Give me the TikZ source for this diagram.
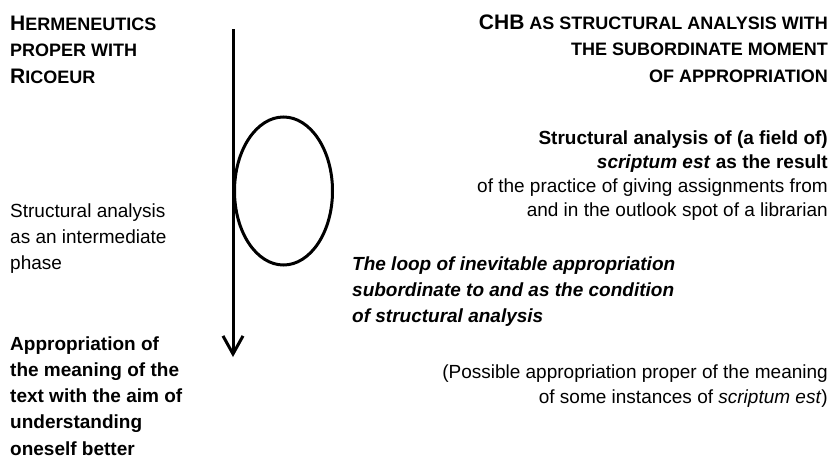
\documentclass[tikz,border=0pt]{standalone}
\usepackage{fontspec}
\setmainfont{Liberation Sans}
\usetikzlibrary{arrows.meta,shapes.geometric}

% faked small capitals: large initial, smaller capitals for the rest
\newcommand\capbig[1]{{\fontsize{21}{26.5}\selectfont #1}}
\newcommand\capsmall[1]{{\fontsize{18}{26.5}\selectfont #1}}

% multi-line nodes are placed by the baseline of their last line
\tikzset{
  heading/.style={inner sep=0pt, font=\bfseries\fontsize{18}{26.5}\selectfont},
  rightbody/.style={inner sep=0pt, font=\fontsize{19}{24}\selectfont, align=right, anchor=base east},
  leftbody/.style={inner sep=0pt, font=\fontsize{19}{26}\selectfont, align=left, anchor=base west},
  stroke/.style={line width=3pt, draw=black},
}

\begin{document}
\begin{tikzpicture}[x=1pt,y=-1pt]
\useasboundingbox[fill=white] (0,0) rectangle (836,458);

% column headings
\node[heading, align=left, anchor=base west] (lefthead) at (10,83)
  {\capbig{H}\capsmall{ERMENEUTICS}\\ \capsmall{PROPER WITH}\\ \capbig{R}\capsmall{ICOEUR}};
\node[heading, align=right, anchor=base east] (righthead) at (828,82)
  {\capbig{CHB} \capsmall{AS STRUCTURAL ANALYSIS WITH}\\ \capsmall{THE SUBORDINATE MOMENT}\\ \capsmall{OF APPROPRIATION}};

% the process line with its loop
\coordinate (start) at (233,29);
\coordinate (tip) at (233,357);
\draw[stroke, -{Straight Barb[length=18pt,width=20pt]}] (start) -- (tip);
\node[stroke, ellipse, minimum width=98pt, minimum height=148pt, inner sep=0pt] (loop) at (283.5,191) {};

% left column
\node[leftbody] (intermediate) at (10,269)
  {Structural analysis\\ as an intermediate\\ phase};
\node[leftbody, font=\bfseries\fontsize{19}{26.2}\selectfont] (appropriation) at (10,455)
  {Appropriation of\\ the meaning of the\\ text with the aim of\\ understanding\\ oneself better};

% right column
\node[rightbody] (result) at (828,216)
  {\textbf{Structural analysis of (a field of)}\\ \textbf{\textit{scriptum est} as the result}\\ of the practice of giving assignments from\\ and in the outlook spot of a librarian};
\node[leftbody, font=\bfseries\itshape\fontsize{19}{26}\selectfont] (loopnote) at (352,322)
  {The loop of inevitable appropriation\\ subordinate to and as the condition\\ of structural analysis};
\node[rightbody, font=\fontsize{19}{25}\selectfont] (possible) at (828,403)
  {(Possible appropriation proper of the meaning\\ of some instances of \textit{scriptum est})};
\end{tikzpicture}
\end{document}
